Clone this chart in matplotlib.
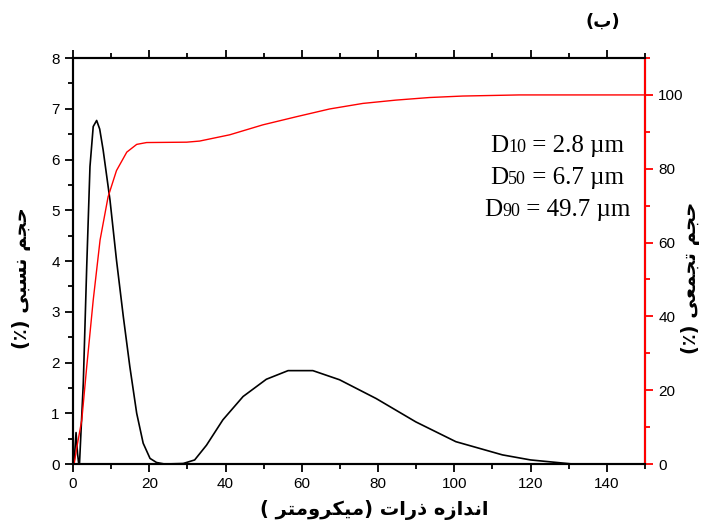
import matplotlib
matplotlib.use('Agg')
import matplotlib.pyplot as plt
from matplotlib.ticker import MultipleLocator

# particle size distribution (black, left axis)
size_x = [0, 0.3, 0.8, 1.2, 1.5, 1.7, 2.7, 3.6, 4.45, 5.3, 6.2, 7.0, 7.9, 9.7, 11.4, 13.2,
          14.9, 16.7, 18.4, 20.2, 21.9, 24, 28.9, 31.9, 35.0, 39.3, 44.6, 50.7, 56.4, 62.9,
          69.9, 79.5, 89.9, 100.4, 112.6, 120, 131]
vol_rel = [0, 0.05, 0.62, 0.2, 0.0, 0.0, 1.6, 3.9, 5.86, 6.65, 6.77, 6.6, 6.19, 5.2, 4.02, 2.9,
           1.92, 1.0, 0.41, 0.11, 0.03, 0.0, 0.01, 0.08, 0.37, 0.87, 1.33, 1.67, 1.84, 1.84,
           1.66, 1.29, 0.83, 0.44, 0.18, 0.08, 0.0]

# cumulative volume (red, right axis)
cum_x = [0.3, 1.0, 2.3, 3.6, 5.3, 7.1, 9.2, 11.4, 14.1, 16.7, 19.3, 29.8, 33.2, 41.1, 49.8,
         58.6, 67.3, 76.0, 84.7, 93.5, 102.2, 117, 150]
vol_cum = [0, 4.5, 11.9, 26.4, 44.4, 60.7, 72.4, 79.5, 84.5, 86.6, 87.1, 87.2, 87.5, 89.2, 91.9,
           94.1, 96.2, 97.7, 98.6, 99.3, 99.7, 100, 100]

d_names = ['10', '50', '90']
d_values = ['2.8', '6.7', '49.7']

# minimal persian shaping (matplotlib has no bidi/shaping)
FORMS = {
    'ا': ('\uFE8D', '\uFE8E', None, None),
    'ب': ('\uFE8F', '\uFE90', '\uFE91', '\uFE92'),
    'ت': ('\uFE95', '\uFE96', '\uFE97', '\uFE98'),
    'ج': ('\uFE9D', '\uFE9E', '\uFE9F', '\uFEA0'),
    'ح': ('\uFEA1', '\uFEA2', '\uFEA3', '\uFEA4'),
    'د': ('\uFEA9', '\uFEAA', None, None),
    'ذ': ('\uFEAB', '\uFEAC', None, None),
    'ر': ('\uFEAD', '\uFEAE', None, None),
    'ز': ('\uFEAF', '\uFEB0', None, None),
    'س': ('\uFEB1', '\uFEB2', '\uFEB3', '\uFEB4'),
    'ع': ('\uFEC9', '\uFECA', '\uFECB', '\uFECC'),
    'م': ('\uFEE1', '\uFEE2', '\uFEE3', '\uFEE4'),
    'ن': ('\uFEE5', '\uFEE6', '\uFEE7', '\uFEE8'),
    'ه': ('\uFEE9', '\uFEEA', '\uFEEB', '\uFEEC'),
    'و': ('\uFEED', '\uFEEE', None, None),
    'ی': ('\uFBFC', '\uFBFD', '\uFBFE', '\uFBFF'),
    'ک': ('\uFB8E', '\uFB8F', '\uFB90', '\uFB91'),
}
MIRROR = {'(': ')', ')': '('}


def fa(s):
    out = []
    for i, c in enumerate(s):
        if c not in FORMS:
            out.append(MIRROR.get(c, c))
            continue
        p = s[i - 1] if i > 0 else ''
        n = s[i + 1] if i + 1 < len(s) else ''
        join_prev = p in FORMS and FORMS[p][2] is not None
        join_next = n in FORMS and FORMS[c][2] is not None
        iso, fin, ini, med = FORMS[c]
        if join_prev and join_next:
            out.append(med)
        elif join_prev:
            out.append(fin)
        elif join_next:
            out.append(ini)
        else:
            out.append(iso)
    return ''.join(reversed(out))


plt.rcParams['font.family'] = ['Liberation Sans', 'DejaVu Sans']

fig = plt.figure(figsize=(7.04, 5.28), dpi=100)
ax = fig.add_axes([0.1037, 0.1212, 0.8125, 0.7689])
ax2 = ax.twinx()

ax.plot(size_x, vol_rel, color='black', linewidth=1.2)
ax2.plot(cum_x, vol_cum, color='red', linewidth=1.0)

ax.set_xlim(0, 150)
ax.set_ylim(0, 8)
ax2.set_ylim(0, 110)
ax.xaxis.set_major_locator(MultipleLocator(20))
ax.xaxis.set_minor_locator(MultipleLocator(10))
ax.yaxis.set_major_locator(MultipleLocator(1))
ax.yaxis.set_minor_locator(MultipleLocator(0.5))
ax2.yaxis.set_major_locator(MultipleLocator(20))
ax2.yaxis.set_minor_locator(MultipleLocator(10))

for sp in ax.spines.values():
    sp.set_linewidth(1.5)
for sp in ax2.spines.values():
    sp.set_linewidth(1.5)
ax2.spines['right'].set_color('red')

ax.tick_params(which='both', direction='out', top=True, width=1.3, labelsize=11)
ax.tick_params(which='major', length=6)
ax.tick_params(which='minor', length=3.5)
ax2.tick_params(which='both', direction='out', colors='red', width=1.3, labelsize=11,
                labelcolor='black')
ax2.tick_params(which='major', length=6)
ax2.tick_params(which='minor', length=3.5)

# axis labels
lab = dict(fontsize=14, fontweight='bold', family=['DejaVu Sans'])
fig.text(374 / 704, 1 - 510 / 528, fa('اندازه ذرات (میکرومتر )'), ha='center', va='center', **lab)
fig.text(22 / 704, 1 - 278 / 528, fa('حجم نسبی (٪)'), ha='center', va='center', rotation=90, **lab)
fig.text(690 / 704, 1 - 278 / 528, fa('حجم تجمعی (٪)'), ha='center', va='center', rotation=90, **lab)
fig.text(603 / 704, 1 - 22 / 528, fa('(ب)'), ha='center', va='center',
         fontsize=13, fontweight='bold', family=['DejaVu Sans'])

# D values box, built from pieces so the index is smaller
fig.canvas.draw()
rend = fig.canvas.get_renderer()
serif = ['Liberation Serif', 'DejaVu Serif']
baselines = [152, 184, 216]
for name, val, yb in zip(d_names, d_values, baselines):
    parts = [('D', 18), (name, 13), (' = ' + val + ' µm', 18)]
    widths = []
    for txt, fs in parts:
        t = fig.text(0, 0, txt, fontsize=fs, family=serif)
        widths.append(t.get_window_extent(rend).width)
        t.remove()
    x = 557 - sum(widths) / 2
    for (txt, fs), w in zip(parts, widths):
        fig.text(x / 704, 1 - yb / 528, txt, fontsize=fs, family=serif,
                 ha='left', va='baseline')
        x += w

fig.savefig('out.png', dpi=100)
